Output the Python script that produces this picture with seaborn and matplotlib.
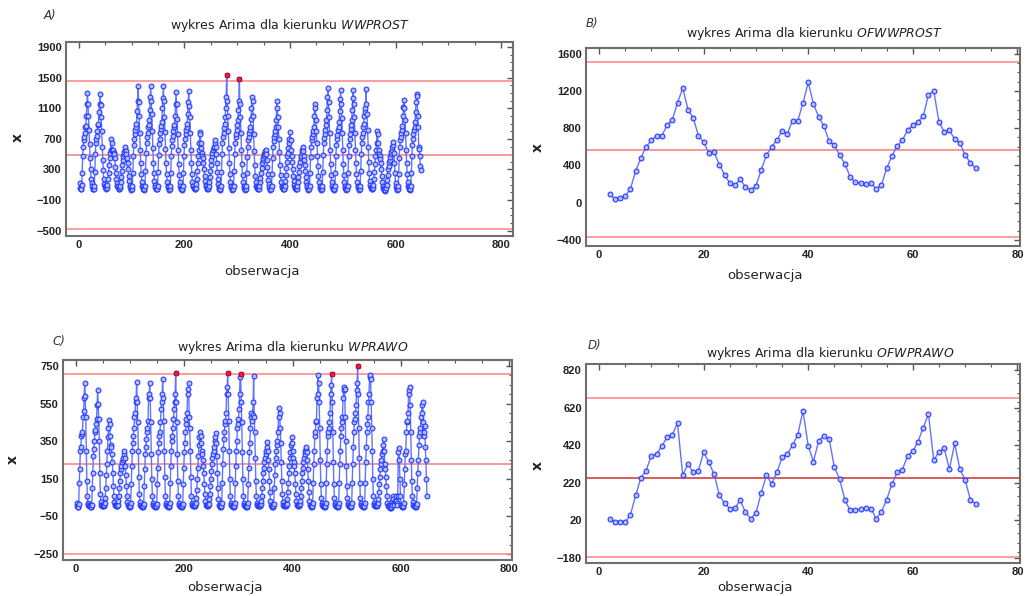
import numpy as np
import matplotlib
matplotlib.use("Agg")
import matplotlib.pyplot as plt
from matplotlib.ticker import MultipleLocator, FixedLocator
import seaborn as sns

# ---------------------------------------------------------
# DANE: kierunek WWPROST, 27 dni x 24 obserwacje (godziny)
# ---------------------------------------------------------
wwprost_days = [
    [120, 60, 45, 50, 95, 250, 480, 600, 690, 720, 780, 850, 870, 1000, 1150, 1300, 1160, 1000, 820, 630, 450, 300, 180, 120],
    [80, 50, 40, 45, 90, 270, 500, 640, 700, 740, 800, 880, 900, 1050, 1160, 1290, 1140, 980, 800, 600, 430, 290, 170, 110],
    [90, 70, 55, 50, 60, 100, 170, 260, 360, 450, 520, 560, 700, 650, 560, 540, 550, 520, 500, 450, 330, 250, 170, 120],
    [90, 70, 50, 45, 55, 80, 130, 200, 280, 360, 420, 470, 500, 530, 560, 590, 540, 500, 450, 380, 300, 220, 150, 100],
    [70, 45, 35, 40, 80, 260, 480, 620, 700, 760, 820, 860, 900, 1070, 1200, 1390, 1180, 1000, 780, 560, 380, 240, 140, 90],
    [65, 40, 35, 45, 85, 280, 510, 650, 720, 780, 850, 880, 940, 1080, 1250, 1390, 1200, 1020, 800, 580, 390, 250, 150, 95],
    [70, 45, 40, 45, 90, 270, 490, 630, 700, 770, 830, 870, 920, 1100, 1240, 1390, 1190, 990, 790, 570, 380, 240, 140, 90],
    [65, 40, 35, 40, 80, 250, 470, 610, 690, 740, 800, 850, 880, 1000, 1150, 1310, 1150, 960, 760, 550, 370, 230, 130, 85],
    [60, 40, 35, 40, 85, 260, 480, 620, 700, 760, 810, 860, 900, 1020, 1180, 1330, 1130, 980, 780, 560, 380, 240, 140, 90],
    [80, 60, 50, 45, 60, 110, 180, 280, 380, 470, 560, 640, 790, 760, 650, 580, 520, 480, 450, 390, 300, 220, 150, 100],
    [80, 60, 50, 45, 55, 80, 130, 200, 280, 360, 430, 480, 520, 550, 580, 600, 640, 680, 600, 500, 380, 270, 180, 110],
    [70, 45, 35, 40, 80, 270, 500, 650, 720, 780, 840, 900, 980, 1100, 1250, 1530, 1200, 1000, 800, 580, 380, 240, 140, 90],
    [65, 40, 35, 40, 85, 280, 500, 640, 720, 760, 820, 880, 950, 1080, 1200, 1480, 1160, 980, 780, 560, 370, 230, 130, 85],
    [60, 40, 35, 40, 80, 250, 460, 600, 680, 730, 780, 820, 860, 960, 1100, 1250, 1200, 1000, 760, 540, 360, 220, 130, 80],
    [70, 55, 45, 40, 50, 80, 130, 190, 260, 320, 380, 420, 450, 480, 500, 520, 540, 560, 500, 420, 330, 240, 160, 110],
    [70, 45, 35, 40, 80, 240, 450, 590, 670, 720, 760, 800, 850, 950, 1200, 1100, 980, 850, 700, 530, 360, 230, 130, 85],
    [70, 55, 45, 40, 50, 90, 150, 230, 320, 400, 470, 520, 580, 650, 700, 790, 680, 560, 480, 400, 310, 220, 150, 100],
    [75, 55, 45, 40, 50, 80, 130, 200, 270, 340, 400, 450, 480, 520, 560, 596, 540, 480, 420, 360, 280, 200, 140, 95],
    [65, 45, 35, 40, 80, 250, 460, 600, 680, 720, 760, 800, 850, 1000, 1160, 1100, 950, 800, 640, 480, 340, 220, 130, 85],
    [60, 40, 35, 40, 85, 270, 490, 640, 710, 760, 820, 880, 940, 1080, 1250, 1365, 1180, 990, 780, 560, 370, 230, 130, 85],
    [60, 40, 35, 40, 85, 260, 480, 620, 700, 750, 810, 860, 920, 1060, 1220, 1335, 1150, 970, 770, 550, 370, 230, 130, 85],
    [60, 40, 35, 40, 85, 260, 480, 620, 700, 760, 830, 880, 950, 1080, 1240, 1335, 1160, 980, 780, 560, 380, 240, 140, 90],
    [65, 45, 35, 40, 90, 280, 500, 650, 720, 780, 850, 900, 1000, 1050, 1100, 1345, 1150, 1020, 820, 600, 400, 250, 150, 95],
    [75, 55, 45, 40, 55, 100, 170, 270, 370, 470, 560, 650, 808, 760, 640, 560, 500, 480, 440, 380, 300, 220, 140, 80],
    [60, 40, 30, 25, 35, 60, 100, 160, 230, 300, 350, 400, 430, 460, 500, 530, 560, 600, 620, 656, 520, 380, 250, 120],
    [70, 45, 35, 40, 80, 240, 450, 600, 680, 720, 770, 820, 870, 1000, 1120, 1205, 1100, 950, 780, 560, 380, 240, 140, 90],
    [65, 40, 35, 40, 85, 260, 470, 620, 700, 760, 810, 860, 920, 1050, 1180, 1280, 1260, 1000, 850, 600, 570, 480, 350, 290],
]

# kierunek WPRAWO, 27 dni x 24 obserwacje
wprawo_days = [
    [20, 5, 0, 0, 15, 130, 200, 300, 320, 380, 390, 400, 480, 510, 580, 658, 590, 480, 300, 140, 60, 20, 10, 5],
    [10, 5, 0, 0, 10, 100, 180, 270, 310, 350, 400, 410, 440, 470, 540, 622, 550, 470, 350, 180, 70, 25, 10, 5],
    [10, 5, 5, 10, 20, 50, 100, 170, 230, 300, 370, 420, 463, 440, 380, 330, 320, 280, 240, 180, 110, 60, 25, 10],
    [10, 5, 5, 5, 10, 30, 60, 100, 140, 180, 200, 220, 240, 250, 260, 280, 298, 260, 220, 170, 110, 60, 25, 10],
    [5, 0, 0, 5, 20, 120, 220, 300, 340, 380, 420, 480, 500, 560, 580, 667, 560, 450, 300, 160, 70, 25, 10, 5],
    [5, 0, 0, 5, 15, 110, 200, 280, 320, 360, 400, 420, 460, 580, 600, 661, 580, 450, 280, 150, 60, 20, 10, 5],
    [5, 0, 0, 5, 15, 120, 210, 290, 340, 380, 400, 450, 520, 560, 600, 679, 580, 460, 300, 160, 60, 20, 10, 5],
    [5, 0, 0, 5, 20, 130, 220, 300, 350, 380, 420, 470, 520, 560, 600, 711, 560, 450, 280, 140, 60, 20, 10, 5],
    [5, 0, 0, 5, 15, 120, 210, 290, 340, 400, 440, 470, 500, 600, 630, 658, 480, 420, 300, 160, 60, 20, 10, 5],
    [10, 5, 5, 10, 20, 50, 90, 150, 210, 270, 330, 370, 397, 380, 340, 300, 280, 250, 220, 180, 120, 70, 30, 10],
    [10, 5, 5, 10, 15, 40, 70, 110, 150, 190, 230, 260, 280, 300, 320, 350, 370, 395, 340, 270, 180, 100, 40, 10],
    [5, 0, 0, 5, 20, 130, 230, 310, 360, 400, 440, 460, 500, 600, 640, 711, 600, 460, 300, 150, 60, 20, 10, 5],
    [5, 0, 0, 5, 20, 130, 220, 300, 350, 420, 440, 470, 520, 600, 690, 707, 560, 450, 290, 150, 60, 20, 10, 5],
    [5, 0, 0, 5, 20, 120, 210, 290, 340, 420, 480, 500, 460, 490, 560, 699, 480, 400, 260, 140, 60, 20, 10, 5],
    [10, 5, 5, 10, 15, 30, 60, 100, 140, 180, 210, 240, 260, 280, 300, 320, 347, 300, 250, 200, 140, 80, 30, 10],
    [5, 0, 0, 5, 15, 100, 170, 230, 260, 300, 330, 350, 400, 480, 528, 500, 420, 340, 240, 140, 70, 25, 10, 5],
    [10, 5, 5, 10, 15, 40, 80, 130, 180, 220, 260, 290, 330, 370, 340, 300, 260, 240, 220, 180, 120, 70, 30, 10],
    [10, 5, 5, 10, 15, 30, 60, 100, 140, 180, 210, 240, 260, 280, 300, 310, 321, 290, 250, 200, 140, 80, 30, 10],
    [5, 0, 0, 5, 20, 130, 230, 300, 380, 400, 450, 460, 580, 600, 702, 660, 560, 420, 250, 120, 50, 20, 10, 5],
    [5, 0, 0, 5, 20, 130, 230, 300, 380, 400, 420, 450, 500, 600, 650, 707, 560, 400, 240, 120, 50, 20, 10, 5],
    [5, 0, 0, 5, 20, 130, 230, 300, 380, 420, 450, 480, 580, 620, 640, 630, 480, 350, 220, 110, 50, 20, 10, 5],
    [5, 0, 0, 5, 20, 130, 230, 320, 400, 450, 470, 500, 540, 620, 660, 750, 600, 420, 260, 130, 50, 20, 10, 5],
    [5, 0, 0, 5, 20, 130, 240, 320, 400, 440, 480, 560, 600, 690, 702, 680, 560, 420, 300, 150, 60, 20, 10, 5],
    [10, 5, 5, 10, 20, 40, 80, 120, 160, 200, 230, 250, 280, 300, 330, 362, 300, 230, 200, 160, 110, 60, 20, 5],
    [10, 5, 0, -5, -5, 0, 10, 30, 60, 40, 20, 10, 30, 60, 30, 20, 10, 60, 290, 312, 250, 150, 60, 10],
    [5, 0, 0, 5, 20, 120, 200, 280, 300, 400, 450, 460, 500, 600, 620, 637, 540, 400, 250, 140, 60, 25, 10, 5],
    [5, 0, 0, 5, 15, 100, 180, 250, 330, 380, 400, 420, 480, 500, 540, 560, 450, 380, 400, 430, 320, 250, 150, 60],
]

# kierunki OFWWPROST i OFWPRAWO, obserwacje 2..72
of_obs = list(range(2, 73))
ofwwprost = [90, 40, 55, 70, 150, 340, 480, 600, 670, 720, 720, 830, 890, 1070, 1230, 1000, 910, 720, 650, 530,
             540, 410, 300, 210, 190, 250, 170, 140, 180, 350, 510, 600, 670, 770, 740, 880, 880, 1070, 1290, 1060,
             920, 820, 660, 620, 510, 420, 280, 220, 210, 200, 210, 150, 190, 370, 500, 610, 670, 780, 830, 870,
             930, 1160, 1200, 870, 760, 780, 680, 640, 510, 430, 370]
ofwprawo = [29, 9, 11, 11, 50, 153, 247, 285, 365, 372, 415, 461, 475, 537, 259, 321, 275, 285, 383, 328,
            266, 153, 112, 82, 87, 126, 63, 29, 59, 166, 259, 215, 275, 356, 372, 420, 475, 604, 415, 333,
            443, 470, 454, 302, 240, 130, 73, 73, 80, 85, 83, 29, 65, 130, 212, 275, 289, 363, 388, 439,
            514, 585, 339, 385, 404, 292, 430, 292, 237, 130, 108]

# linie kontrolne: srednia, gorna granica, dolna granica
wwprost_limits = (495, 1462, -472)
ofwwprost_limits = (570, 1505, -365)
wprawo_limits = (228, 706, -250)
ofwprawo_limits = (247, 670, -176)

wwprost = np.concatenate(wwprost_days)
wprawo = np.concatenate(wprawo_days)
long_obs = np.arange(1, len(wwprost) + 1)

# ---------------------------------------------------------
# WYKRES
# ---------------------------------------------------------
W, H = 1029, 596
sns.set_style("white")
plt.rcParams['font.family'] = ['DejaVu Sans']
fig = plt.figure(figsize=(W / 100, H / 100), dpi=100)


def add_box(l, t, r, b):
    return fig.add_axes([l / W, 1 - b / H, (r - l) / W, (b - t) / H])


def panel(box, x, y, limits, xlim, ylim, yticks, xmaj, xmin, ymin, letter, letter_xy,
          name, title_xy, xlab_xy, ylab_xy, mean_color='#f49a9a'):
    l, t, r, b = box
    ax = add_box(l, t, r, b)
    mean, ucl, lcl = limits
    ax.axhline(ucl, color='#ff8c8c', lw=1.2, zorder=1)
    ax.axhline(mean, color=mean_color, lw=1.4, zorder=1)
    ax.axhline(lcl, color='#ff8c8c', lw=1.2, zorder=1)

    sns.lineplot(x=x, y=y, ax=ax, color='#6373ff', lw=1.0, marker='o', markersize=3.5,
                 markerfacecolor='#b3bcff', markeredgecolor='#1f35ff', markeredgewidth=0.75,
                 zorder=3)
    y = np.asarray(y)
    x = np.asarray(x)
    over = y > ucl
    if over.any():
        sns.scatterplot(x=x[over], y=y[over], ax=ax, color='#ff1a1a', marker='s', s=12,
                        edgecolor='#cc0000', linewidth=0.5, zorder=4)

    ax.set_xlim(*xlim)
    ax.set_ylim(*ylim)
    ax.yaxis.set_major_locator(FixedLocator(yticks))
    ax.xaxis.set_major_locator(MultipleLocator(xmaj))
    ax.xaxis.set_minor_locator(MultipleLocator(xmin))
    ax.yaxis.set_minor_locator(MultipleLocator(ymin))
    ax.tick_params(which='both', direction='in', top=True, right=True, color='#555555',
                   labelsize=8, labelcolor='#222222', pad=3)
    ax.tick_params(which='major', length=4.5, width=1.0)
    ax.tick_params(which='minor', length=2.5, width=0.8)
    for lab in ax.get_xticklabels() + ax.get_yticklabels():
        lab.set_fontweight('bold')
        lab.set_family('Liberation Sans')
    for sp in ax.spines.values():
        sp.set_color('#6e6e6e')
        sp.set_linewidth(1.5)

    fx = lambda px: (px - l) / (r - l)
    fy = lambda py: (b - py) / (b - t)
    ax.set_xlabel('obserwacja', fontsize=9.5, color='#222222', va='center')
    ax.xaxis.set_label_coords(fx(xlab_xy[0]), fy(xlab_xy[1]))
    ax.set_ylabel('x', fontsize=10, fontweight='bold', color='#222222', va='center')
    ax.yaxis.set_label_coords(fx(ylab_xy[0]), fy(ylab_xy[1]))

    fig.text(title_xy[0] / W, 1 - title_xy[1] / H,
             r'wykres Arima dla kierunku $\mathit{' + name + '}$',
             ha='center', va='center', fontsize=9, color='#222222')
    fig.text(letter_xy[0] / W, 1 - letter_xy[1] / H, letter + ')', ha='center', va='center',
             fontsize=8.5, style='italic', color='#333333')
    return ax


panel((66, 42, 513, 236), long_obs, wwprost, wwprost_limits, (-24.6, 822.7), (-569, 1965),
      [-500, -100, 300, 700, 1100, 1500, 1900], 200, 50, 100,
      'A', (50, 15), 'WWPROST', (290, 25), (262, 271), (18, 138))

panel((586, 48, 1020, 246), of_obs, ofwwprost, ofwwprost_limits, (-2.5, 80.5), (-464, 1660),
      [-400, 0, 400, 800, 1200, 1600], 20, 5, 100,
      'B', (592, 23), 'OFWWPROST', (814, 34), (765, 275), (538, 147))

panel((63, 360, 512, 560), long_obs, wprawo, wprawo_limits, (-24, 805), (-282, 782),
      [-250, -50, 150, 350, 550, 750], 200, 50, 50,
      'C', (59, 342), 'WPRAWO', (293, 347), (225, 587), (13, 460))

panel((586, 364, 1020, 563), of_obs, ofwprawo, ofwprawo_limits, (-2.5, 80.5), (-207, 852),
      [-180, 20, 220, 420, 620, 820], 20, 5, 50,
      'D', (595, 345), 'OFWPRAWO', (830, 354), (755, 587), (538, 465),
      mean_color='#d85c5c')

fig.savefig('out.png', dpi=100)
